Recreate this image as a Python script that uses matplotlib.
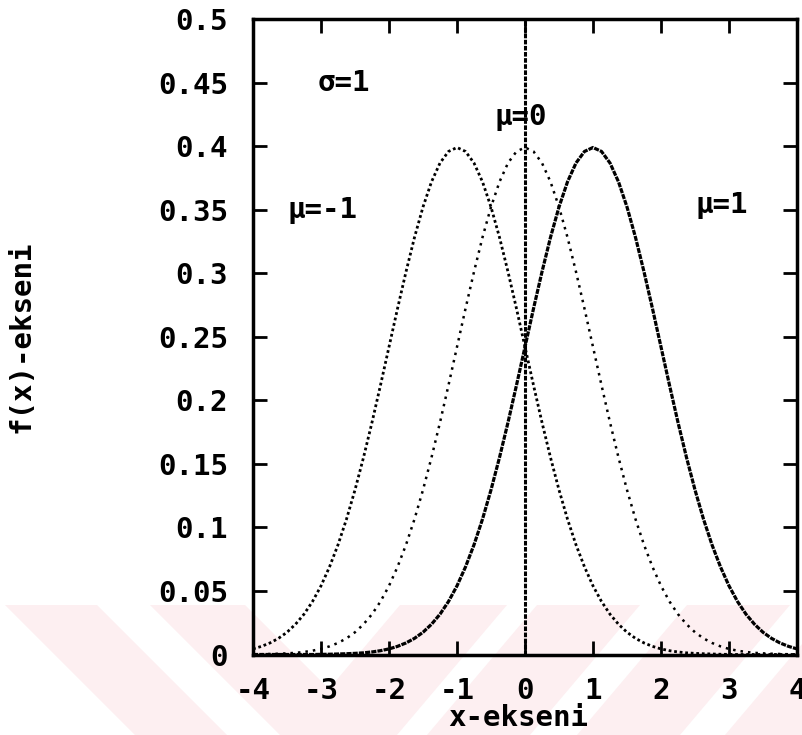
import matplotlib
matplotlib.use("Agg")
import matplotlib.pyplot as plt
from matplotlib.patches import Polygon

# ---- data ----
x_vals = [-4.0, -3.875, -3.75, -3.625, -3.5, -3.375, -3.25, -3.125,
          -3.0, -2.875, -2.75, -2.625, -2.5, -2.375, -2.25, -2.125,
          -2.0, -1.875, -1.75, -1.625, -1.5, -1.375, -1.25, -1.125,
          -1.0, -0.875, -0.75, -0.625, -0.5, -0.375, -0.25, -0.125,
          0.0, 0.125, 0.25, 0.375, 0.5, 0.625, 0.75, 0.875,
          1.0, 1.125, 1.25, 1.375, 1.5, 1.625, 1.75, 1.875,
          2.0, 2.125, 2.25, 2.375, 2.5, 2.625, 2.75, 2.875,
          3.0, 3.125, 3.25, 3.375, 3.5, 3.625, 3.75, 3.875, 4.0]

f_mu_m1 = [0.0044, 0.0064, 0.0091, 0.0127, 0.0175, 0.0238, 0.0317, 0.0417,
           0.0540, 0.0689, 0.0863, 0.1065, 0.1295, 0.1550, 0.1826, 0.2119,
           0.2420, 0.2721, 0.3011, 0.3282, 0.3521, 0.3719, 0.3867, 0.3958,
           0.3989, 0.3958, 0.3867, 0.3719, 0.3521, 0.3282, 0.3011, 0.2721,
           0.2420, 0.2119, 0.1826, 0.1550, 0.1295, 0.1065, 0.0863, 0.0689,
           0.0540, 0.0417, 0.0317, 0.0238, 0.0175, 0.0127, 0.0091, 0.0064,
           0.0044, 0.0030, 0.0020, 0.0013, 0.0009, 0.0006, 0.0004, 0.0002,
           0.0001, 0.0000, 0.0000, 0.0000, 0.0000, 0.0000, 0.0000, 0.0000, 0.0000]

f_mu_0 = [0.0001, 0.0002, 0.0004, 0.0006, 0.0009, 0.0013, 0.0020, 0.0030,
          0.0044, 0.0064, 0.0091, 0.0127, 0.0175, 0.0238, 0.0317, 0.0417,
          0.0540, 0.0689, 0.0863, 0.1065, 0.1295, 0.1550, 0.1826, 0.2119,
          0.2420, 0.2721, 0.3011, 0.3282, 0.3521, 0.3719, 0.3867, 0.3958,
          0.3989, 0.3958, 0.3867, 0.3719, 0.3521, 0.3282, 0.3011, 0.2721,
          0.2420, 0.2119, 0.1826, 0.1550, 0.1295, 0.1065, 0.0863, 0.0689,
          0.0540, 0.0417, 0.0317, 0.0238, 0.0175, 0.0127, 0.0091, 0.0064,
          0.0044, 0.0030, 0.0020, 0.0013, 0.0009, 0.0006, 0.0004, 0.0002, 0.0001]

f_mu_p1 = [0.0000, 0.0000, 0.0000, 0.0000, 0.0000, 0.0000, 0.0000, 0.0000,
           0.0001, 0.0002, 0.0004, 0.0006, 0.0009, 0.0013, 0.0020, 0.0030,
           0.0044, 0.0064, 0.0091, 0.0127, 0.0175, 0.0238, 0.0317, 0.0417,
           0.0540, 0.0689, 0.0863, 0.1065, 0.1295, 0.1550, 0.1826, 0.2119,
           0.2420, 0.2721, 0.3011, 0.3282, 0.3521, 0.3719, 0.3867, 0.3958,
           0.3989, 0.3958, 0.3867, 0.3719, 0.3521, 0.3282, 0.3011, 0.2721,
           0.2420, 0.2119, 0.1826, 0.1550, 0.1295, 0.1065, 0.0863, 0.0689,
           0.0540, 0.0417, 0.0317, 0.0238, 0.0175, 0.0127, 0.0091, 0.0064, 0.0044]

x_ticks = [-4, -3, -2, -1, 0, 1, 2, 3, 4]
x_ticklabels = ["-4", "-3", "-2", "-1", "0", "1", "2", "3", "4"]
y_ticks = [0, 0.05, 0.1, 0.15, 0.2, 0.25, 0.3, 0.35, 0.4, 0.45, 0.5]
y_ticklabels = ["0", "0.05", "0.1", "0.15", "0.2", "0.25", "0.3", "0.35", "0.4", "0.45", "0.5"]

labels = ["σ=1", "μ=-1", "μ=0", "μ=1"]
label_pos = [(-3.05, 0.45), (-3.5, 0.35), (-0.45, 0.423), (2.5, 0.354)]

# ---- figure ----
W, H = 803, 735
fig = plt.figure(figsize=(W / 100, H / 100), dpi=100)
fig.patch.set_facecolor("white")

FONT = "DejaVu Sans Mono"
FS = 21

# watermark (light pink diagonal stripes in the lower band)
pink = "#fdeff1"
top, bot = 605, 735
def fpt(x, y):
    return (x / W, 1 - y / H)
stripes_back = [(5, 97, 130), (150, 245, 130)]                       # "\" stripes
stripes_fwd = [(400, 507, 110), (537, 640, 110), (687, 790, 110), (835, 935, 110)]  # "/" stripes
for a, b, d in stripes_back:
    pts = [fpt(a, top), fpt(b, top), fpt(b + d, bot), fpt(a + d, bot)]
    fig.patches.append(Polygon(pts, closed=True, transform=fig.transFigure,
                               facecolor=pink, edgecolor="none", zorder=-10))
for a, b, d in stripes_fwd:
    pts = [fpt(a, top), fpt(b, top), fpt(b - d, bot), fpt(a - d, bot)]
    fig.patches.append(Polygon(pts, closed=True, transform=fig.transFigure,
                               facecolor=pink, edgecolor="none", zorder=-10))

ax = fig.add_axes([253 / W, 1 - 654.5 / H, (797 - 253) / W, (654.5 - 19) / H])
ax.patch.set_alpha(0)

ax.plot(x_vals, f_mu_m1, color="black", lw=2.0, ls=(0, (1, 1.0)))
ax.plot(x_vals, f_mu_0, color="black", lw=1.8, ls=(0, (1, 2.0)))
ax.plot(x_vals, f_mu_p1, color="black", lw=2.3, ls=(0, (1.6, 0.35)))
ax.axvline(0, color="black", lw=2.2, ls=(0, (1.5, 0.5)))

ax.set_xlim(-4, 4)
ax.set_ylim(0, 0.5)
ax.set_xticks(x_ticks)
ax.set_xticklabels(x_ticklabels)
ax.set_yticks(y_ticks)
ax.set_yticklabels(y_ticklabels)

for sp in ax.spines.values():
    sp.set_linewidth(2.5)

ax.tick_params(direction="in", length=10, width=2, top=True, right=True,
               labelsize=FS)
ax.tick_params(axis="y", pad=18)
ax.tick_params(axis="x", pad=16)
for lab in ax.get_xticklabels() + ax.get_yticklabels():
    lab.set_fontfamily(FONT)
    lab.set_fontweight("bold")

ax.set_xlabel("x-ekseni", fontfamily=FONT, fontweight="bold", fontsize=FS, labelpad=0)
ax.set_ylabel("f(x)-ekseni", fontfamily=FONT, fontweight="bold", fontsize=FS, labelpad=0)
ax.yaxis.set_label_coords(-(253 - 22) / (797 - 253), 0.5)
ax.xaxis.set_label_coords((518 - 253) / (797 - 253), -(718 - 654.5) / (654.5 - 19))
ax.xaxis.label.set_va("center")
ax.yaxis.label.set_va("center")

for txt, (tx, ty) in zip(labels, label_pos):
    ax.text(tx, ty, txt, fontfamily=FONT, fontweight="bold", fontsize=FS,
            ha="left", va="center")

fig.savefig("out.png", dpi=100)
